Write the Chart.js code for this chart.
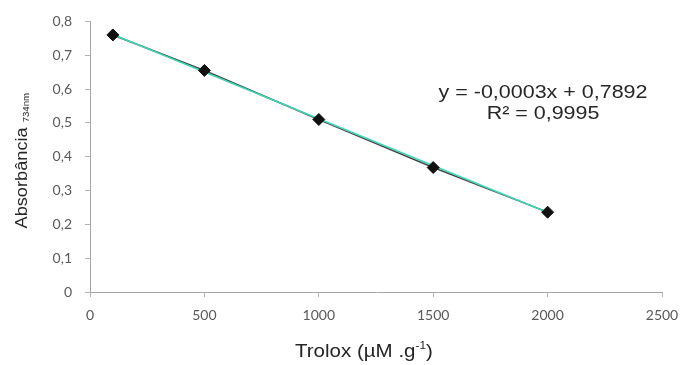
<!DOCTYPE html>
<html>
<head>
<meta charset="utf-8">
<script src="https://cdn.jsdelivr.net/npm/chart.js@4"></script>
<style>
  html, body { margin: 0; padding: 0; background: #fff; }
  #wrap { width: 682px; height: 365px; }
</style>
</head>
<body>
<div id="wrap"><canvas id="chart"></canvas></div>
<script>
  // ---- Data ----
  const troloxX = [100, 500, 1000, 1500, 2000];
  const absorbY = [0.760, 0.655, 0.510, 0.368, 0.236];
  // trendline end points as drawn
  const trendX = [100, 2000];
  const trendY = [0.761, 0.235];
  const eqLines = ["y = -0,0003x + 0,7892", "R\u00B2 = 0,9995"];
  const eqAnchor = { x: 1980, y: [0.589, 0.528] };

  const xMax = 2500, xStep = 500;
  const yMax = 0.8, yStep = 0.1;

  const pairs = (xs, ys) => xs.map((x, i) => ({ x, y: ys[i] }));
  const FONT = "'Liberation Sans', Arial, sans-serif";

  // draw text a bit wider than the font, like the stretched original
  function wideText(ctx, text, x, y, size, stretch) {
    ctx.save();
    ctx.font = `${size}px ${FONT}`;
    ctx.translate(x, y);
    ctx.scale(stretch, 1);
    ctx.fillText(text, 0, 0);
    ctx.restore();
  }
  function textWidth(ctx, text, size, stretch) {
    ctx.font = `${size}px ${FONT}`;
    return ctx.measureText(text).width * stretch;
  }

  // ---- Titles + equation drawn by hand (subscript / superscript) ----
  const textPlugin = {
    id: "texts",
    afterDraw(chart) {
      const { ctx, chartArea, scales } = chart;
      ctx.save();
      ctx.fillStyle = "#262626";
      ctx.textBaseline = "middle";
      ctx.textAlign = "left";

      // equation (centered lines)
      const ex = scales.x.getPixelForValue(eqAnchor.x);
      eqLines.forEach((t, i) => {
        const w = textWidth(ctx, t, 19, 1.13);
        wideText(ctx, t, ex - w / 2, scales.y.getPixelForValue(eqAnchor.y[i]), 19, 1.13);
      });

      // x title with superscript
      const main = "Trolox (\u00B5M .g";
      const sup = "-1";
      const close = ")";
      const st = 1.08;
      const wMain = textWidth(ctx, main, 19, st);
      const wSup = textWidth(ctx, sup, 11, st);
      const wClose = textWidth(ctx, close, 19, st);
      const sx = 295;
      const ty = 352;
      wideText(ctx, main, sx, ty, 19, st);
      wideText(ctx, sup, sx + wMain, ty - 6, 11, st);
      wideText(ctx, close, sx + wMain + wSup, ty, 19, st);

      // y title with subscript, rotated
      ctx.translate(22, (chartArea.top + chartArea.bottom) / 2 + 4);
      ctx.rotate(-Math.PI / 2);
      const yMain = "Absorb\u00E2ncia";
      const ySub = "734nm";
      const wy = textWidth(ctx, yMain, 17, 1.07);
      const wys = textWidth(ctx, ySub, 9, 1.07);
      const start = -(wy + 5 + wys) / 2;
      wideText(ctx, yMain, start, 0, 17, 1.07);
      wideText(ctx, ySub, start + wy + 5, 5, 9, 1.07);
      ctx.restore();
    }
  };

  const tickFont = { family: "Lato, 'Open Sans', sans-serif", size: 14 };
  const axisGrid = { drawOnChartArea: false, drawTicks: true, tickLength: 5, color: "#b5b5b5" };
  const axisBorder = { color: "#a6a6a6", width: 1 };

  new Chart(document.getElementById("chart"), {
    type: "scatter",
    data: {
      datasets: [
        {
          label: "pontos",
          data: pairs(troloxX, absorbY),
          showLine: false,
          pointStyle: "rectRot",
          pointRadius: 6,
          pointBackgroundColor: "#111",
          pointBorderColor: "#111",
        },
        {
          label: "tendência",
          data: pairs(trendX, trendY),
          showLine: true,
          borderColor: "#3fd6b4",
          borderWidth: 1.6,
          pointRadius: 0,
        },
        {
          label: "linha",
          data: pairs(troloxX, absorbY),
          showLine: true,
          borderColor: "#444",
          borderWidth: 1.5,
          pointRadius: 0,
        },
      ],
    },
    options: {
      responsive: true,
      maintainAspectRatio: false,
      animation: false,
      layout: { padding: { top: 12, right: 0, left: 0, bottom: 0 } },
      plugins: { legend: { display: false }, tooltip: { enabled: false } },
      scales: {
        x: {
          type: "linear",
          min: 0,
          max: xMax,
          grid: axisGrid,
          border: axisBorder,
          ticks: {
            stepSize: xStep,
            font: tickFont,
            color: "#595959",
            padding: 10,
            maxRotation: 0,
            callback: (v) => String(v),
          },
          afterFit(scale) {
            scale.height = 73;
            scale.paddingRight = 20;
          },
        },
        y: {
          min: 0,
          max: yMax,
          grid: axisGrid,
          border: axisBorder,
          ticks: {
            stepSize: yStep,
            font: tickFont,
            color: "#595959",
            padding: 13,
            callback: (v) => (v === 0 ? "0" : v.toFixed(1).replace(".", ",")),
          },
          afterFit(scale) { scale.width = 90; },
        },
      },
    },
    plugins: [textPlugin],
  });
</script>
</body>
</html>
